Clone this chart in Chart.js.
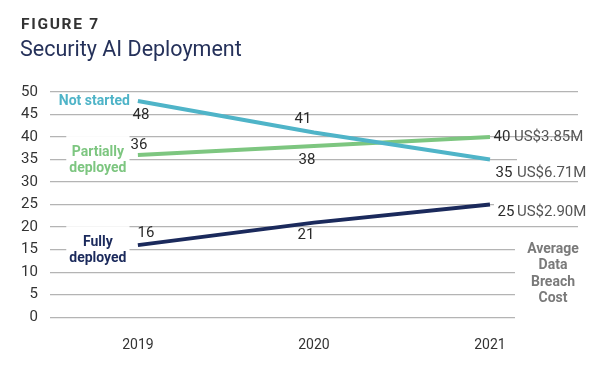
<!DOCTYPE html>
<html>
<head>
<meta charset="utf-8">
<script src="https://cdn.jsdelivr.net/npm/chart.js@4/dist/chart.umd.min.js"></script>
<style>
  html, body { margin: 0; padding: 0; background: #fff; }
  #wrap { position: relative; width: 600px; height: 374px; overflow: hidden; font-family: Roboto, "Liberation Sans", sans-serif; }
  #fig { position: absolute; left: 21px; top: 15px; font-size: 15.5px; font-weight: 700; letter-spacing: 1.7px; color: #333; }
  #ttl { position: absolute; left: 20px; top: 36px; font-size: 21.5px; font-weight: 400; color: #25315a; }
  canvas { position: absolute; left: 0; top: 0; }
</style>
</head>
<body>
<div id="wrap">
  <canvas id="c" width="600" height="374"></canvas>
  <div id="fig">FIGURE 7</div>
  <div id="ttl">Security AI Deployment</div>
</div>
<script>
// ---- data ----
const categories = ['2019', '2020', '2021'];
const notStarted = [48, 41, 35];
const partiallyDeployed = [36, 38, 40];
const fullyDeployed = [16, 21, 25];
const seriesNames = [['Not started'], ['Partially', 'deployed'], ['Fully', 'deployed']];
const breachCosts = ['US$6.71M', 'US$3.85M', 'US$2.90M'];
const costTitle = ['Average', 'Data', 'Breach', 'Cost'];
const yTicks = { min: 0, max: 50, step: 5 };

// ---- style ----
const colors = ['#4fb4c8', '#7dc680', '#1b2a5c'];
const FONT = 'Roboto, "Liberation Sans", sans-serif';

// per-series label layout (pixel offsets relative to points)
const valueOffsets = [
  [[3, 14], [-11, -13], [14, 14]],
  [[1, -10], [-7, 14], [12, 0]],
  [[8, -12], [-8, 13], [16, 8]]
];
const costDx = [27, 24, 27];
const costDy = [14, 0, 8];

const annotPlugin = {
  id: 'annot',
  beforeDatasetsDraw(chart) {
    const ctx = chart.ctx;
    const ca = chart.chartArea;
    const xs = chart.scales.x, ys = chart.scales.y;
    ctx.save();
    ctx.fillStyle = '#ffffff';
    ctx.font = 'bold 14px ' + FONT;
    chart.data.datasets.forEach((ds, i) => {
      const lines = seriesNames[i];
      const px = xs.getPixelForValue(0), py = ys.getPixelForValue(ds.data[0]);
      if (lines.length > 1) {
        let w = Math.max(...lines.map(l => ctx.measureText(l).width));
        const cx = px - 40;
        ctx.fillRect(cx - w / 2 - 3, py - 19, w + 6, 35);
      }
    });
    const colLeft = xs.getPixelForValue(2) + 25;
    const t35 = ys.getPixelForValue(notStarted[2]);
    ctx.fillRect(colLeft + 2, t35 - 1, ca.right - colLeft + 10, 21);
    const t25 = ys.getPixelForValue(fullyDeployed[2]);
    ctx.fillRect(xs.getPixelForValue(2) + 4, t25 - 3, ca.right, 18);
    const t15 = ys.getPixelForValue(15);
    ctx.fillRect(colLeft, t15 - 10, ca.right, ys.getPixelForValue(0) - t15 + 14);
    ctx.restore();
  },
  afterDatasetsDraw(chart) {
    const ctx = chart.ctx;
    const ca = chart.chartArea;
    const xs = chart.scales.x, ys = chart.scales.y;
    ctx.save();
    ctx.textBaseline = 'middle';
    chart.data.datasets.forEach((ds, i) => {
      ctx.font = '15px ' + FONT;
      ctx.fillStyle = '#2b2b2b';
      ctx.textAlign = 'center';
      ds.data.forEach((v, j) => {
        const px = xs.getPixelForValue(j), py = ys.getPixelForValue(v);
        const [dx, dy] = valueOffsets[i][j];
        ctx.fillText(String(v), px + dx, py + dy);
      });
      const lx = xs.getPixelForValue(2), ly = ys.getPixelForValue(ds.data[2]);
      ctx.textAlign = 'left';
      ctx.fillStyle = '#555555';
      ctx.fillText(breachCosts[i], lx + costDx[i], ly + costDy[i]);
      ctx.font = 'bold 14px ' + FONT;
      ctx.fillStyle = colors[i];
      const px = xs.getPixelForValue(0), py = ys.getPixelForValue(ds.data[0]);
      const lines = seriesNames[i];
      if (lines.length === 1) {
        ctx.textAlign = 'right';
        ctx.fillText(lines[0], px - 8, py);
      } else {
        ctx.textAlign = 'center';
        lines.forEach((l, k) => ctx.fillText(l, px - 40, py - 3 + k * 16.5));
      }
    });
    ctx.font = 'bold 14px ' + FONT;
    ctx.fillStyle = '#7a7a7a';
    ctx.textAlign = 'center';
    const cx = ca.right - 25;
    const y0 = ys.getPixelForValue(15);
    costTitle.forEach((l, k) => ctx.fillText(l, cx, y0 + k * 16.3));
    ctx.restore();
  }
};

const mkDs = (label, data, color) => ({
  label, data, borderColor: color, backgroundColor: color,
  borderWidth: 4, pointRadius: 0, tension: 0, borderCapStyle: 'butt', fill: false
});

new Chart(document.getElementById('c'), {
  type: 'line',
  data: {
    labels: categories,
    datasets: [
      mkDs('Not started', notStarted, colors[0]),
      mkDs('Partially deployed', partiallyDeployed, colors[1]),
      mkDs('Fully deployed', fullyDeployed, colors[2])
    ]
  },
  options: {
    responsive: false,
    animation: false,
    devicePixelRatio: 1,
    layout: { padding: { top: 92, left: 9, right: 22, bottom: 8 } },
    plugins: { legend: { display: false }, tooltip: { enabled: false }, title: { display: false } },
    scales: {
      x: {
        offset: true,
        grid: { display: false },
        border: { display: false },
        ticks: { color: '#333', font: { family: FONT, size: 14 }, padding: 12 }
      },
      y: {
        min: yTicks.min, max: yTicks.max,
        ticks: { stepSize: yTicks.step, color: '#333', font: { family: FONT, size: 15 }, padding: 12 },
        grid: { color: '#b4b4b4', lineWidth: 1.3, drawTicks: false },
        border: { display: false }
      }
    }
  },
  plugins: [annotPlugin]
});
</script>
</body>
</html>
